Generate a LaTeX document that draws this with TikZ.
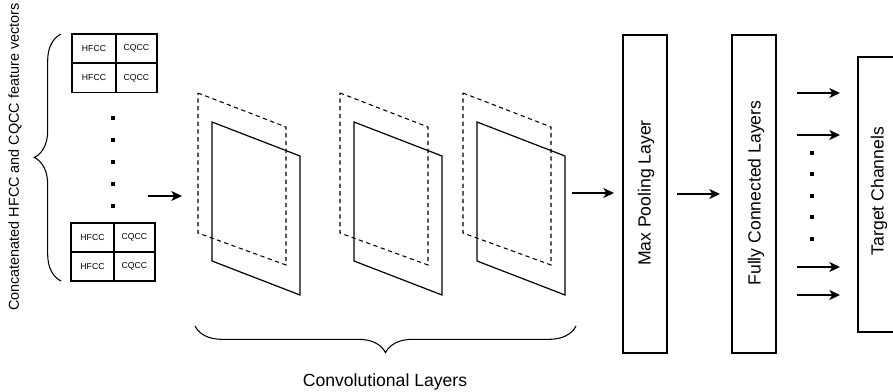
\documentclass[tikz,border=0pt]{standalone}
\usepackage{fontspec}
\setmainfont{Liberation Sans}
\usetikzlibrary{arrows.meta,decorations.pathreplacing}

\begin{document}
\begin{tikzpicture}[x=0.75pt,y=-0.75pt,
  line width=0.8pt,
  arr/.style={-{Stealth[length=8pt,width=7.5pt,inset=2.2pt]}, line width=0.9pt},
  cell/.style={draw, line width=0.9pt, inner sep=0pt, minimum height=21.75pt, font=\fontsize{6.5}{7.5}\selectfont},
  layerbox/.style={draw, line width=0.9pt, inner sep=0pt, minimum width=33pt, minimum height=238.5pt},
  biglabel/.style={font=\fontsize{13.2}{15.5}\selectfont},
  dotmark/.style={fill=black, inner sep=0pt, minimum size=3pt},
  curly/.style={decorate, decoration={brace, amplitude=20pt}, line width=0.8pt},
  sheetsolid/.style={line width=0.9pt},
  sheetdashed/.style={line width=0.8pt, dash pattern=on 3.2pt off 2.6pt}]

\useasboundingbox (0,0) rectangle (893,392);
\clip (0,0) rectangle (893,392);

% side label and brace for the input vectors
\node[rotate=90, font=\fontsize{10.8}{13}\selectfont] (inlabel) at (15,157) {Concatenated HFCC and CQCC feature vectors};
\coordinate (lbB) at (61,281);
\coordinate (lbT) at (61,34);
\draw[curly] (lbB) -- (lbT);

% top feature block
\node[cell, minimum width=33pt] (t11) at (94,48.5) {HFCC};
\node[cell, minimum width=30.75pt] (t12) at (136.5,48.5) {CQCC};
\node[cell, minimum width=33pt] (t21) at (94,78) {HFCC};
\node[cell, minimum width=30.75pt] (t22) at (136.5,78) {CQCC};

% bottom feature block
\node[cell, minimum width=32.25pt] (b11) at (92.5,237.5) {HFCC};
\node[cell, minimum width=30.75pt] (b12) at (134.5,237.5) {CQCC};
\node[cell, minimum width=32.25pt] (b21) at (92.5,266.5) {HFCC};
\node[cell, minimum width=30.75pt] (b22) at (134.5,266.5) {CQCC};

% vertical ellipsis between the blocks
\foreach \yy [count=\i] in {118,140,162,184,206}
  \node[dotmark] (ld\i) at (113,\yy) {};

% arrow into the convolution stack
\coordinate (inS) at (148,196);
\coordinate (inE) at (182,196);
\draw[arr] (inS) -- (inE);

% convolution sheets: dashed back sheet, solid front sheet
\foreach \xx [count=\k] in {198,340,463} {
  \coordinate (d\k a) at (\xx,93);
  \coordinate (d\k b) at (\xx+88,127);
  \coordinate (d\k c) at (\xx+88,265);
  \coordinate (d\k d) at (\xx,233);
  \draw[sheetdashed] (d\k a) -- (d\k b) -- (d\k c) -- (d\k d) -- cycle;
  \coordinate (s\k a) at (\xx+14,122);
  \coordinate (s\k b) at (\xx+102,156);
  \coordinate (s\k c) at (\xx+102,295);
  \coordinate (s\k d) at (\xx+14,261);
  \draw[sheetsolid] (s\k a) -- (s\k b) -- (s\k c) -- (s\k d) -- cycle;
}

% brace under the convolution stack
\coordinate (cbR) at (576,326);
\coordinate (cbL) at (195,326);
\draw[curly] (cbR) -- (cbL);
\node[biglabel] (convlabel) at (385,382) {Convolutional Layers};

% pooling and dense stages
\node[layerbox] (pool) at (645,194) {};
\node[biglabel, rotate=90] (poollabel) at (646,193) {Max Pooling Layer};
\node[layerbox] (fc) at (754,194) {};
\node[biglabel, rotate=90] (fclabel) at (756,193) {Fully Connected Layers};

% output stage
\node[draw, line width=0.9pt, inner sep=0pt, minimum width=31.5pt, minimum height=206.25pt] (target) at (879,194.5) {};
\node[biglabel, rotate=90] (targetlabel) at (879,191) {Target Channels};

% stage arrows
\coordinate (a1s) at (572,193);
\coordinate (a1e) at (614,193);
\draw[arr] (a1s) -- (a1e);
\coordinate (a2s) at (677,194);
\coordinate (a2e) at (720,194);
\draw[arr] (a2s) -- (a2e);

% output arrows with ellipsis
\foreach \yy [count=\j] in {93,135,267,295} {
  \coordinate (o\j s) at (797,\yy);
  \coordinate (o\j e) at (840,\yy);
  \draw[arr] (o\j s) -- (o\j e);
}
\foreach \yy [count=\i] in {153,174,196,217,239}
  \node[dotmark] (rd\i) at (812,\yy) {};

\end{tikzpicture}
\end{document}
